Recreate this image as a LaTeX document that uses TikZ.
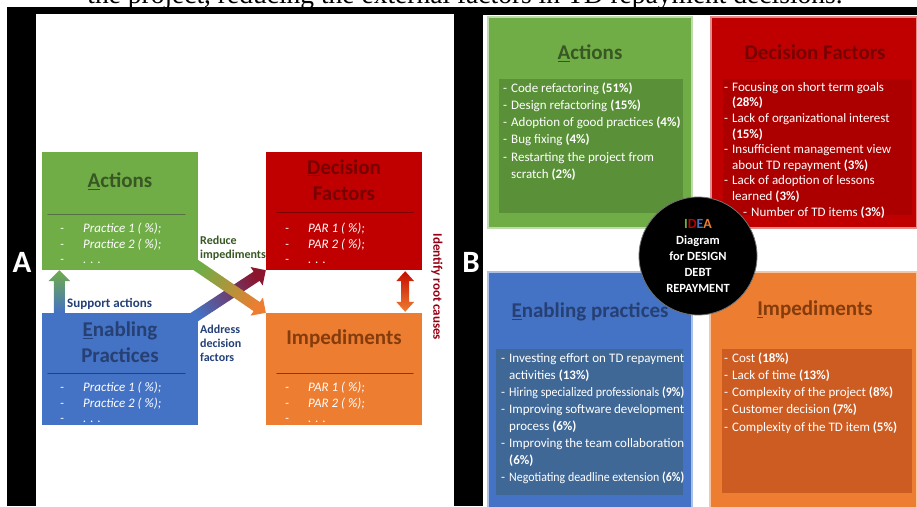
\documentclass[tikz,border=0pt]{standalone}
\usepackage{fontspec}
\setmainfont{Carlito}
\newfontfamily\capfont{Liberation Serif}
\usetikzlibrary{calc,positioning}
\definecolor{ideagreen}{RGB}{112,173,71}
\definecolor{ideagreenin}{RGB}{90,145,56}
\definecolor{ideared}{RGB}{192,0,0}
\definecolor{idearedin}{RGB}{172,0,0}
\definecolor{ideablue}{RGB}{68,114,196}
\definecolor{ideabluein}{RGB}{64,104,150}
\definecolor{ideaorange}{RGB}{237,125,49}
\definecolor{ideaorangein}{RGB}{205,92,35}
\definecolor{tgreen}{RGB}{56,87,35}
\definecolor{tred}{RGB}{120,0,0}
\definecolor{tblue}{RGB}{38,64,115}
\definecolor{torange}{RGB}{132,60,12}
\definecolor{lblblue}{RGB}{36,64,120}
\definecolor{lblred}{RGB}{150,0,20}
\definecolor{ideacrimson}{RGB}{140,20,45}
% fat shaded arrow: [shading]{from}{to}
\newcommand{\fatarrow}[3][]{%
  \coordinate (fa-h) at ($(#3)!11pt!(#2)$);
  \shade[#1] ($(#2)!5.5pt!90:(#3)$) -- ($(fa-h)!5.5pt!90:(#3)$)
   -- ($(fa-h)!11pt!90:(#3)$) -- (#3) -- ($(fa-h)!11pt!-90:(#3)$)
   -- ($(fa-h)!5.5pt!-90:(#3)$) -- ($(#2)!5.5pt!-90:(#3)$) -- cycle;}
% same with a head at both ends
\newcommand{\fatdarrow}[3][]{%
  \coordinate (fa-p) at ($(#2)!10pt!(#3)$);
  \coordinate (fa-q) at ($(#3)!10pt!(#2)$);
  \shade[#1] (#2) -- ($(fa-p)!9pt!90:(#3)$) -- ($(fa-p)!4pt!90:(#3)$)
   -- ($(fa-q)!4pt!-90:(#2)$) -- ($(fa-q)!9pt!-90:(#2)$) -- (#3)
   -- ($(fa-q)!9pt!90:(#2)$) -- ($(fa-q)!4pt!90:(#2)$)
   -- ($(fa-p)!4pt!-90:(#3)$) -- ($(fa-p)!9pt!-90:(#3)$) -- cycle;}
\newcommand{\tdi}{\makebox[8pt][l]{-}}
\newcommand{\tdc}{\hspace*{8pt}}
\newcommand{\tda}{\makebox[23pt][l]{-}}
% justified line of the blue list
\newcommand{\tdj}[1]{\resizebox{175pt}{\height}{#1}}
\newcommand{\tds}[1]{\makebox[175pt][s]{#1}}

\begin{document}
\begin{tikzpicture}[x=1pt,y=-1pt,line cap=round,
  every node/.style={inner sep=0pt},
  boxa/.style={minimum width=156pt},
  boxb/.style={line width=2.5pt},
  titlea/.style={font=\bfseries\fontsize{21}{26}\selectfont,align=center},
  itemsa/.style={anchor=north west,align=left,text=white,
   font=\itshape\fontsize{13}{15.5}\selectfont},
  itemsb/.style={anchor=north west,align=left,text=white,
   font=\fontsize{13}{17.2}\selectfont},
  lbla/.style={font=\bfseries\fontsize{12}{14}\selectfont,align=left},
  panel/.style={text=white,font=\bfseries\fontsize{31}{31}\selectfont}]
 \useasboundingbox (0,0) rectangle (917,506);
 \fill[white] (0,0) rectangle (917,506);
 \fill[black] (7,7) rectangle (917,506);
 \fill[white] (36,14) rectangle (454,506);
 \fill[white] (483,15) rectangle (917,506);
 \node[anchor=base,font=\capfont\fontsize{27.5}{27.5}\selectfont] (caption)
  at (465,3) {the project, reducing the external factors in TD repayment decisions.};
 \node[panel] (labA) at (22,262) {A};
 \node[panel] (labB) at (471,262) {B};

 % panel A
 \node[boxa,fill=ideagreen,minimum height=118pt] (actA) at (120,211) {};
 \node[boxa,fill=ideared,minimum height=118pt] (decA) at (344,211) {};
 \node[boxa,fill=ideablue,minimum height=112pt] (enA) at (120,369) {};
 \node[boxa,fill=ideaorange,minimum height=112pt] (impA) at (344,369) {};
 \node[titlea,text=tgreen] (actAt) at (120,181) {\underline{A}ctions};
 \node[titlea,text=tred] (decAt) at (344,180) {\underline{D}ecision\\Factors};
 \node[titlea,text=tblue] (enAt) at (120,342.5) {\underline{E}nabling\\Practices};
 \node[titlea,text=torange] (impAt) at (344,339) {Impediments};
 \draw[tgreen!85,line width=.8pt] ($(actA.north west)+(6,63)$) -- ($(actA.north east)+(-13,63)$);
 \draw[tred,line width=.8pt] ($(decA.north west)+(11,61)$) -- ($(decA.north east)+(-9,61)$);
 \draw[tblue,line width=.8pt] ($(enA.north west)+(6,61)$) -- ($(enA.north east)+(-13,61)$);
 \draw[torange,line width=.8pt] ($(impA.north west)+(11,61)$) -- ($(impA.north east)+(-9,61)$);
 \node[itemsa] (actAi) at (60,221.6) {\strut\tda Practice 1 ( \%);\\\tda Practice 2 ( \%);\\\tda . . .};
 \node[itemsa] (decAi) at (285,221.6) {\strut\tda PAR 1 ( \%);\\\tda PAR 2 ( \%);\\\tda . . .};
 \node[itemsa] (enAi) at (60,380.6) {\strut\tda Practice 1 ( \%);\\\tda Practice 2 ( \%);\\\tda . . .};
 \node[itemsa] (impAi) at (285,380.6) {\strut\tda PAR 1 ( \%);\\\tda PAR 2 ( \%);\\\tda . . .};

 \coordinate (supS) at ($(enA.north west)+(17.5,0)$);
 \coordinate (supT) at ($(actA.south west)+(17.5,0)$);
 \coordinate (addS) at ($(enA.north east)+(-8,7)$);
 \coordinate (redS) at ($(actA.south east)+(-5,-7)$);
 \coordinate (rootS) at ($(decA.south east)+(-17,1)$);
 \coordinate (rootT) at ($(impA.north east)+(-17,-1)$);
 \fatarrow[top color=ideagreen,bottom color=ideablue]{supS}{supT}
 \fatarrow[top color=ideacrimson,bottom color=ideablue,shading angle=-56]{addS}{decA.south west}
 \fatarrow[top color=ideagreen,bottom color=ideaorange,shading angle=56]{redS}{impA.north west}
 \fatdarrow[top color=ideared!90!orange,bottom color=ideaorange]{rootS}{rootT}
 \node[lbla,text=lblblue,anchor=west,font=\bfseries\fontsize{13}{14}\selectfont] (supL) at (67,304) {Support actions};
 \node[lbla,text=tgreen,anchor=west] (redL) at (200,248.5) {Reduce\\impediments};
 \node[lbla,text=lblblue,anchor=west] (addL) at (200,343) {Address\\decision\\factors};
 \node[lbla,text=lblred,rotate=-90,font=\bfseries\fontsize{13}{14}\selectfont] (rootL) at (437,287) {Identify root causes};

 % panel B
 \node[boxb,fill=ideagreen,draw=ideagreen!45,minimum width=204pt,minimum height=211pt] (actB) at (590,122.5) {};
 \node[boxb,fill=ideared,draw=ideared!45,minimum width=206pt,minimum height=211pt] (decB) at (814,122.5) {};
 \node[boxb,fill=ideablue,draw=ideablue!45,minimum width=204pt,minimum height=243pt] (enB) at (590,393.5) {};
 \node[boxb,fill=ideaorange,draw=ideaorange!45,minimum width=207pt,minimum height=243pt] (impB) at (813.5,393.5) {};
 \node[fill=ideagreenin,minimum width=184pt,minimum height=134pt] (actBin) at (591,146) {};
 \node[fill=idearedin,minimum width=189pt,minimum height=136pt] (decBin) at (817.5,147) {};
 \node[fill=ideabluein,minimum width=187pt,minimum height=146pt] (enBin) at (589.5,422) {};
 \node[fill=ideaorangein,minimum width=190pt,minimum height=144pt] (impBin) at (817,421) {};
 \node[titlea,text=tgreen] (actBt) at (590,53) {\underline{A}ctions};
 \node[titlea,text=tred] (decBt) at (815,53) {\underline{D}ecision Factors};
 \node[titlea,text=tblue] (enBt) at (590,312) {\underline{E}nabling practices};
 \node[titlea,text=torange] (impBt) at (815,310) {\underline{I}mpediments};
 \node[itemsb] (actBi) at (503,80) {\strut\tdi Code refactoring \textbf{(51\%)}\\
  \tdi Design refactoring \textbf{(15\%)}\\
  \tdi Adoption of good practices \textbf{(4\%)}\\
  \tdi Bug fixing \textbf{(4\%)}\\
  \tdi Restarting the project from\\
  \tdc scratch \textbf{(2\%)}};
 \node[itemsb,font=\fontsize{13}{15.6}\selectfont] (decBi) at (724,80.1) {\strut\tdi Focusing on short term goals\\
  \tdc\textbf{(28\%)}\\
  \tdi Lack of organizational interest\\
  \tdc\textbf{(15\%)}\\
  \tdi Insufficient management view\\
  \tdc about TD repayment \textbf{(3\%)}\\
  \tdi Lack of adoption of lessons\\
  \tdc learned \textbf{(3\%)}\\
  \hspace*{19pt}\tdi Number of TD items \textbf{(3\%)}};
 \node[itemsb,font=\fontsize{13}{17.1}\selectfont] (enBi) at (501,350) {\strut\tdi\tds{Investing effort on TD repayment}\\
  \tdc activities \textbf{(13\%)}\\
  \tdi\tdj{Hiring specialized professionals \textbf{(9\%)}}\\
  \tdi\tds{Improving software development}\\
  \tdc process \textbf{(6\%)}\\
  \tdi\tds{Improving the team collaboration}\\
  \tdc\textbf{(6\%)}\\
  \tdi\tdj{Negotiating deadline extension \textbf{(6\%)}}};
 \node[itemsb] (impBi) at (724,350) {\strut\tdi Cost \textbf{(18\%)}\\
  \tdi Lack of time \textbf{(13\%)}\\
  \tdi Complexity of the project \textbf{(8\%)}\\
  \tdi Customer decision \textbf{(7\%)}\\
  \tdi Complexity of the TD item \textbf{(5\%)}};
 \node[circle,fill=black,draw=black!55,line width=.8pt,minimum size=118pt,
  align=center,text=white,font=\bfseries\fontsize{12.5}{16}\selectfont] (idea) at (698,256)
  {{\fontsize{14}{16}\selectfont\textcolor{ideagreen}{I}\textcolor{ideared}{D}\textcolor{ideablue}{E}\textcolor{ideaorange}{A}}\\
  Diagram\\for DESIGN\\DEBT\\REPAYMENT};
\end{tikzpicture}
\end{document}
